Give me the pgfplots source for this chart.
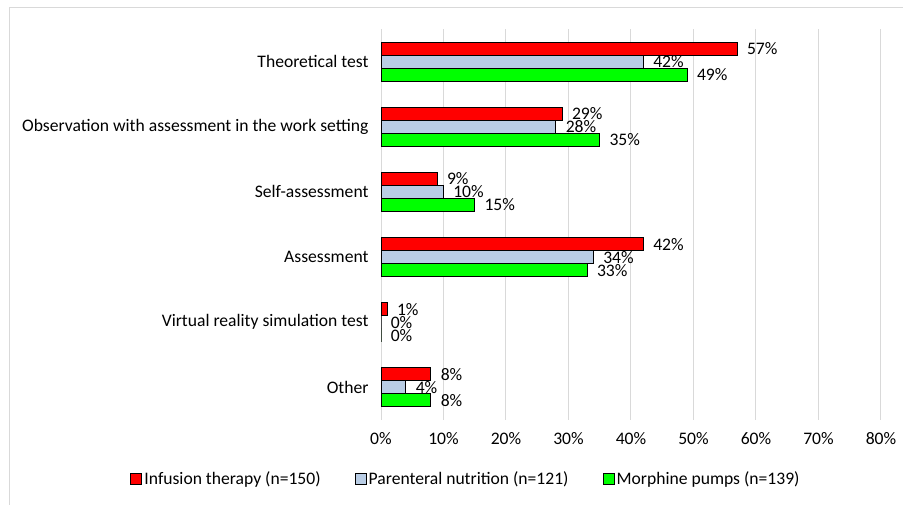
\documentclass[border=0pt]{standalone}
\usepackage{pgfplots}
\pgfplotsset{compat=1.18}
\usepackage{fontspec}
\setmainfont{Carlito}
\definecolor{cred}{HTML}{FF0000}
\definecolor{cblue}{HTML}{B9CDE5}
\definecolor{cgreen}{HTML}{00FF00}
\definecolor{cgrid}{HTML}{D9D9D9}
\newcommand{\lf}{\fontsize{17.6bp}{20bp}\selectfont}
\begin{document}
\begin{tikzpicture}
\useasboundingbox (0,0) rectangle (903bp,505bp);
\fill[white] (0,0) rectangle (903bp,505bp);
\draw[cgrid, line width=1bp] (9bp,0) -- (9bp,497bp) -- (903bp,497bp);
\begin{axis}[
 at={(381bp,85bp)}, anchor=south west,
 scale only axis, width=500bp, height=391bp,
 xbar=0pt, bar width=13bp,
 xmin=0, xmax=80, xtick={0,10,...,80},
 ymin=-0.5, ymax=5.5,
 ytick={0,...,5},
 yticklabels={Other, Virtual reality simulation test, Assessment, Self-assessment, Observation with assessment in the work setting, Theoretical test},
 axis line style={draw=none},
 major tick length=0pt,
 xmajorgrids, grid style={cgrid, line width=1bp},
 xticklabel={\pgfmathprintnumber{\tick}\%},
 /pgf/number format/assume math mode=true,
 tick label style={font=\lf},
 xticklabel style={yshift=-9bp},
 yticklabel style={xshift=-9bp},
 nodes near coords={\pgfmathprintnumber{\pgfplotspointmeta}\%},
 nodes near coords style={font=\lf, anchor=west, xshift=6bp, text=black},
 legend columns=3,
 reverse legend,
 legend style={font=\lf, draw=none, fill=none, at={(0.17,-0.151)}, anchor=center,
   /tikz/every even column/.append style={column sep=32bp}},
 legend image code/.code={\draw[#1] (0bp,-5.5bp) rectangle (11bp,5.5bp);},
]
\addplot[draw=black, line width=1bp, fill=cgreen] coordinates {(49,5) (35,4) (15,3) (33,2) (0,1) (8,0)};
\addlegendentry{Morphine pumps (n=139)}
\addplot[draw=black, line width=1bp, fill=cblue] coordinates {(42,5) (28,4) (10,3) (34,2) (0,1) (4,0)};
\addlegendentry{Parenteral nutrition (n=121)}
\addplot[draw=black, line width=1bp, fill=cred] coordinates {(57,5) (29,4) (9,3) (42,2) (1,1) (8,0)};
\addlegendentry{Infusion therapy (n=150)}
\end{axis}
\end{tikzpicture}
\end{document}
